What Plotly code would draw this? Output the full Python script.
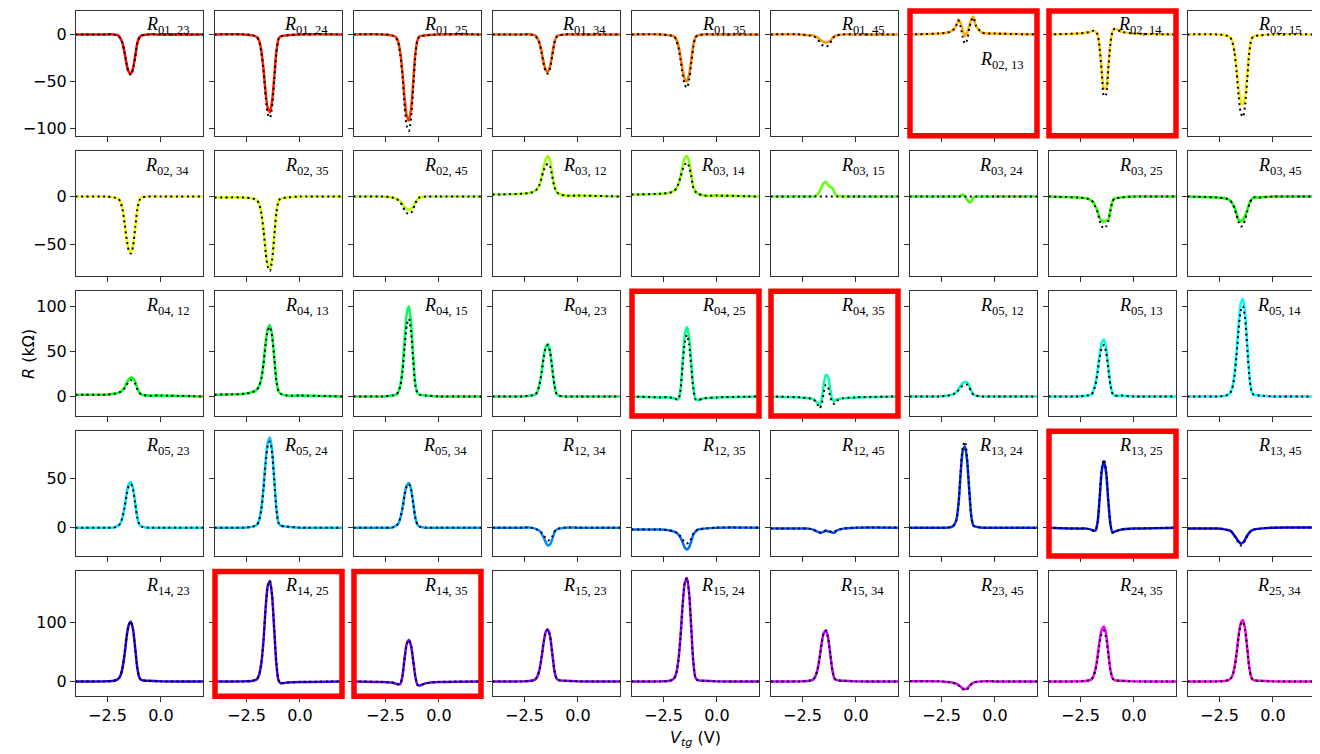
import colorsys
import plotly.graph_objects as go

# ---------------- data ----------------
V_TG = [-4.0, -2.6, -2.2, -2.0, -1.9, -1.8, -1.7, -1.6, -1.5, -1.4,
        -1.3, -1.2, -1.1, -1.0, -0.9, -0.6, 0.0, 2.0]

LABELS = ["01, 23", "01, 24", "01, 25", "01, 34", "01, 35", "01, 45", "02, 13", "02, 14", "02, 15",
          "02, 34", "02, 35", "02, 45", "03, 12", "03, 14", "03, 15", "03, 24", "03, 25", "03, 45",
          "04, 12", "04, 13", "04, 15", "04, 23", "04, 25", "04, 35", "05, 12", "05, 13", "05, 14",
          "05, 23", "05, 24", "05, 34", "12, 34", "12, 35", "12, 45", "13, 24", "13, 25", "13, 45",
          "14, 23", "14, 25", "14, 35", "15, 23", "15, 24", "15, 34", "23, 45", "24, 35", "25, 34"]

HIGHLIGHTED = ["02, 13", "02, 14", "04, 25", "04, 35", "13, 25", "14, 25", "14, 35"]

meas_row1 = [
    [0, 0, 0, -1, -4, -9, -19, -32, -40, -42, -36, -23, -9, -3, -1, 0, 0, 0],
    [0, 0, -1, -3, -7, -18, -37, -62, -79, -83, -71, -46, -18, -5, -2, -1, 0, 0],
    [0, 0, -1, -3, -8, -20, -41, -69, -87, -92, -79, -51, -20, -6, -2, -1, 0, 0],
    [0, 0, 0, -1, -4, -9, -18, -30, -38, -40, -34, -22, -9, -2, -1, 0, 0, 0],
    [0, 0, -1, -2, -5, -12, -24, -38, -48, -50, -43, -28, -11, -3, -1, 0, 0, 0],
    [0, 0, -1, -1, -2, -3, -5, -7, -8, -9, -8, -7, -4, -2, -1, 0, 0, 0],
    [0, 1, 2, 4, 6, 10, 16, 12, 5, -2, 2, 9, 16, 19, 10, 2, 1, 0],
    [0, 1, 2, 3, 4, 3, 0, -14, -38, -58, -57, -35, -10, 3, 6, 3, 1, 0],
    [0, 0, -1, -3, -7, -17, -34, -56, -71, -75, -65, -41, -17, -5, -2, -1, 0, 0],
]
fit_row1 = [
    [0, 0, 0, -2, -4, -9, -19, -32, -41, -43, -37, -24, -9, -3, -1, 0, 0, 0],
    [0, 0, -1, -3, -8, -20, -40, -67, -85, -89, -77, -49, -20, -5, -2, -1, 0, 0],
    [0, 0, -1, -4, -9, -23, -46, -77, -98, -103, -89, -57, -23, -6, -2, -1, 0, 0],
    [0, 0, 0, -2, -4, -9, -19, -32, -40, -42, -36, -23, -9, -3, -1, 0, 0, 0],
    [0, 0, -1, -2, -6, -14, -27, -43, -54, -57, -49, -31, -13, -3, -1, 0, 0, 0],
    [0, 0, -1, -2, -3, -5, -8, -11, -12, -13, -12, -9, -5, -2, -1, 0, 0, 0],
    [0, 1, 2, 4, 6, 10, 15, 8, -3, -10, -6, 6, 15, 18, 10, 2, 1, 0],
    [0, 1, 2, 3, 4, 3, 0, -15, -42, -66, -64, -38, -11, 3, 6, 3, 1, 0],
    [0, 0, -1, -3, -8, -19, -40, -66, -84, -88, -76, -48, -19, -5, -2, -1, 0, 0],
]

meas_row2 = [
    [0, 0, -1, -2, -5, -13, -26, -44, -55, -58, -50, -32, -13, -3, -1, 0, 0, 0],
    [-1, -1, -2, -4, -8, -17, -34, -56, -70, -74, -64, -41, -16, -5, -2, -1, 0, 0],
    [0, 0, -1, -2, -3, -5, -8, -11, -13, -14, -13, -10, -6, -3, -1, 0, 0, 0],
    [2, 3, 4, 6, 8, 12, 20, 31, 39, 42, 37, 24, 11, 5, 3, 1, 1, 0],
    [2, 3, 4, 6, 8, 13, 21, 32, 40, 42, 36, 23, 10, 5, 3, 1, 1, 0],
    [0, 0, 0, 0, 1, 2, 5, 10, 14, 15, 12, 10, 9, 4, 1, 0, 0, 0],
    [0, 0, 0, 0, 0, 0, 0, 1, 2, 0, -3, -6, -5, -1, 0, 0, 0, 0],
    [0, -1, -2, -4, -6, -10, -15, -22, -25, -26, -25, -24, -14, -5, -2, -1, 0, 0],
    [0, -1, -2, -4, -7, -11, -18, -24, -26, -24, -20, -14, -7, -3, -1, -1, 0, 0],
]
fit_row2 = [
    [0, 0, -1, -2, -5, -13, -27, -44, -56, -59, -51, -32, -13, -4, -1, 0, 0, 0],
    [-1, -1, -2, -4, -8, -18, -35, -58, -73, -77, -66, -42, -17, -5, -2, -1, 0, 0],
    [0, 0, -1, -2, -4, -6, -10, -14, -17, -18, -17, -13, -7, -3, -1, 0, 0, 0],
    [2, 3, 4, 6, 8, 12, 19, 27, 32, 34, 31, 21, 10, 5, 3, 1, 1, 0],
    [2, 3, 4, 6, 8, 13, 20, 28, 33, 35, 31, 21, 9, 5, 3, 1, 1, 0],
    [0, 0, 0, 0, 0, 0, 0, 0, 0, 0, 0, 0, 0, 0, 0, 0, 0, 0],
    [0, 0, 0, 0, 0, 0, 0, 0, 0, 0, 0, 0, 0, 0, 0, 0, 0, 0],
    [0, -1, -2, -4, -6, -11, -16, -25, -31, -33, -31, -26, -15, -5, -2, -1, 0, 0],
    [0, -1, -2, -4, -7, -12, -19, -27, -31, -30, -24, -16, -8, -3, -1, -1, 0, 0],
]

meas_row3 = [
    [2, 2, 3, 4, 5, 7, 10, 15, 19, 21, 20, 16, 9, 4, 2, 1, 1, 0],
    [2, 3, 5, 8, 12, 20, 37, 60, 75, 79, 68, 44, 18, 6, 3, 1, 1, 0],
    [0, 0, 1, 2, 5, 13, 32, 64, 92, 100, 82, 45, 14, 4, 2, 1, 0, 0],
    [0, 0, 1, 2, 5, 13, 26, 44, 55, 58, 50, 32, 13, 3, 1, 0, 0, 0],
    [0, -1, -1, -2, -3, -3, 8, 40, 68, 77, 66, 38, 10, -3, -4, -2, -1, 0],
    [0, -1, -2, -3, -5, -7, -9, -3, 14, 24, 22, 8, -3, -5, -3, -2, -1, 0],
    [0, 0, 1, 2, 3, 5, 8, 12, 15, 16, 16, 12, 6, 2, 1, 0, 0, 0],
    [0, 0, 1, 2, 6, 14, 28, 47, 60, 63, 54, 35, 14, 4, 1, 1, 0, 0],
    [0, 0, 1, 4, 10, 24, 49, 81, 103, 108, 93, 59, 24, 6, 2, 1, 0, 0],
]
fit_row3 = [
    [2, 2, 3, 4, 5, 7, 9, 13, 16, 18, 17, 14, 8, 4, 2, 1, 1, 0],
    [2, 3, 5, 8, 12, 20, 36, 58, 73, 77, 66, 43, 17, 6, 3, 1, 1, 0],
    [0, 0, 1, 2, 5, 12, 28, 55, 79, 86, 71, 39, 12, 4, 2, 1, 0, 0],
    [0, 0, 1, 2, 5, 13, 26, 43, 54, 57, 49, 31, 13, 3, 1, 0, 0, 0],
    [0, -1, -1, -2, -3, -3, 7, 35, 60, 68, 58, 33, 9, -3, -4, -2, -1, 0],
    [0, -1, -2, -3, -5, -9, -13, -9, 5, 13, 10, 0, -7, -8, -5, -2, -1, 0],
    [0, 0, 1, 2, 3, 4, 7, 10, 12, 13, 13, 10, 5, 2, 1, 0, 0, 0],
    [0, 0, 1, 2, 5, 13, 26, 43, 54, 57, 49, 31, 13, 3, 1, 1, 0, 0],
    [0, 0, 1, 4, 9, 22, 45, 75, 95, 100, 86, 55, 22, 6, 2, 1, 0, 0],
]

meas_row4 = [
    [0, 0, 0, 2, 4, 10, 21, 35, 44, 46, 40, 25, 10, 3, 1, 0, 0, 0],
    [0, 0, 1, 3, 8, 20, 41, 68, 86, 91, 78, 50, 20, 5, 2, 1, 0, 0],
    [0, 0, 0, 2, 4, 10, 20, 34, 43, 45, 39, 25, 10, 3, 1, 0, 0, 0],
    [0, 0, 0, -1, -2, -3, -6, -10, -15, -18, -17, -12, -5, -2, -1, 0, 0, 0],
    [-2, -2, -3, -4, -5, -7, -10, -15, -20, -22, -20, -14, -7, -4, -2, -1, 0, 0],
    [-1, -1, -1, -2, -3, -4, -5, -5, -4, -3, -4, -4, -5, -5, -3, -1, 0, 0],
    [0, 0, 0, 1, 3, 8, 24, 55, 78, 82, 68, 38, 11, 2, 1, 0, 0, 0],
    [0, -1, -1, -2, -3, -3, 5, 30, 58, 67, 56, 28, 4, -5, -4, -2, -1, 0],
    [-1, -1, -2, -3, -5, -8, -11, -14, -16, -15, -12, -8, -5, -3, -2, -1, 0, 0],
]
fit_row4 = [
    [0, 0, 0, 2, 4, 10, 20, 33, 42, 44, 38, 24, 10, 3, 1, 0, 0, 0],
    [0, 0, 1, 3, 8, 19, 39, 65, 83, 87, 75, 48, 19, 5, 2, 1, 0, 0],
    [0, 0, 0, 2, 4, 10, 20, 33, 42, 44, 38, 24, 10, 3, 1, 0, 0, 0],
    [0, 0, 0, -1, -2, -3, -5, -8, -11, -13, -12, -9, -4, -2, -1, 0, 0, 0],
    [-2, -2, -3, -4, -5, -6, -9, -12, -15, -16, -15, -11, -6, -4, -2, -1, 0, 0],
    [-1, -1, -1, -2, -3, -4, -5, -5, -4, -3, -3, -4, -5, -4, -3, -1, 0, 0],
    [0, 0, 0, 1, 3, 8, 24, 57, 82, 87, 71, 39, 11, 2, 1, 0, 0, 0],
    [0, -1, -1, -2, -3, -3, 5, 31, 60, 69, 58, 29, 4, -5, -4, -2, -1, 0],
    [-1, -1, -2, -3, -5, -8, -12, -16, -18, -17, -13, -9, -5, -3, -2, -1, 0, 0],
]

meas_row5 = [
    [0, 0, 1, 4, 9, 22, 45, 76, 96, 101, 87, 56, 22, 6, 2, 1, 0, 0],
    [0, 0, 1, 4, 12, 32, 70, 125, 162, 170, 145, 88, 30, 2, -3, -2, -1, 0],
    [0, -1, -2, -4, -5, -4, 10, 40, 64, 70, 60, 35, 8, -6, -7, -3, -1, 0],
    [0, 0, 1, 3, 8, 19, 40, 66, 84, 88, 76, 48, 19, 5, 2, 1, 0, 0],
    [0, 0, 1, 5, 14, 36, 76, 130, 167, 175, 150, 92, 32, 6, 2, 1, 0, 0],
    [0, 0, 1, 3, 8, 19, 39, 65, 82, 86, 74, 47, 19, 5, 2, 1, 0, 0],
    [0, 0, -1, -2, -3, -4, -6, -9, -12, -13, -12, -8, -4, -2, -1, 0, 0, 0],
    [0, 0, 1, 3, 8, 20, 42, 70, 88, 93, 80, 51, 20, 6, 2, 1, 0, 0],
    [0, 0, 1, 4, 9, 23, 47, 78, 99, 104, 89, 57, 23, 6, 2, 1, 0, 0],
]
fit_row5 = [
    [0, 0, 1, 4, 9, 22, 45, 76, 96, 101, 87, 56, 22, 6, 2, 1, 0, 0],
    [0, 0, 1, 4, 12, 32, 70, 125, 162, 170, 145, 88, 30, 2, -3, -2, -1, 0],
    [0, -1, -2, -4, -5, -4, 10, 40, 64, 70, 60, 35, 8, -6, -7, -3, -1, 0],
    [0, 0, 1, 3, 8, 19, 40, 66, 84, 88, 76, 48, 19, 5, 2, 1, 0, 0],
    [0, 0, 1, 5, 14, 36, 76, 130, 167, 175, 150, 92, 32, 6, 2, 1, 0, 0],
    [0, 0, 1, 3, 8, 19, 39, 65, 82, 86, 74, 47, 19, 5, 2, 1, 0, 0],
    [0, 0, -1, -2, -3, -4, -7, -10, -13, -15, -14, -10, -5, -2, -1, 0, 0, 0],
    [0, 0, 1, 3, 8, 19, 39, 65, 82, 86, 74, 47, 19, 5, 2, 1, 0, 0],
    [0, 0, 1, 4, 9, 22, 45, 76, 96, 101, 87, 56, 22, 6, 2, 1, 0, 0],
]

X_TICKS = [-2.5, 0.0]
X_TICK_TEXT = ["\u22122.5", "0.0"]
ROW_Y_TICKS = [[-100, -50, 0], [-50, 0], [0, 50, 100], [0, 50], [0, 100]]

# ---------------- layout / style ----------------
PAGE_OFF = 8          # browser body margin; figure drawn from (8, 8)
W, H = 1320 - PAGE_OFF, 754 - PAGE_OFF
ROW_RANGES = [[-108, 25], [-82, 47], [-21.5, 116.5], [-28.7, 97.3], [-25, 186]]
COL_LEFT = [76 + 139 * c for c in range(9)]
PANEL_W = 127
ROW_TOP = [11, 151.5, 292, 432.5, 573]
PANEL_H = 125

MEAS = meas_row1 + meas_row2 + meas_row3 + meas_row4 + meas_row5
FITS = fit_row1 + fit_row2 + fit_row3 + fit_row4 + fit_row5


def px_x(x):
    return (x - PAGE_OFF) / W


def px_y(y):
    return 1 - (y - PAGE_OFF) / H


def fmt_tick(v):
    return ("\u2212" + str(abs(v))) if v < 0 else str(v)


fig = go.Figure()
layout = dict(width=W, height=H, margin=dict(l=0, r=0, t=0, b=0),
              paper_bgcolor="white", plot_bgcolor="white", showlegend=False)
annotations = []
shapes = []
tick_font = dict(family="DejaVu Sans", size=16, color="black")
label_font = dict(family="Liberation Serif", size=18, color="black")

for i in range(45):
    r, c = divmod(i, 9)
    n = i + 1
    xa = "x" if n == 1 else f"x{n}"
    ya = "y" if n == 1 else f"y{n}"
    h = (i * 305.0 / 44.0) / 360.0
    rr, gg, bb = colorsys.hsv_to_rgb(h, 1.0, 1.0)
    col = f"rgb({int(rr*255)},{int(gg*255)},{int(bb*255)})"

    fig.add_trace(go.Scatter(x=V_TG, y=MEAS[i], xaxis=xa, yaxis=ya, mode="lines",
                             line=dict(color=col, width=2.5, shape="spline", smoothing=0.7),
                             hoverinfo="skip"))
    fig.add_trace(go.Scatter(x=V_TG, y=FITS[i], xaxis=xa, yaxis=ya, mode="lines",
                             line=dict(color="black", width=2, dash="2px,3.5px",
                                       shape="spline", smoothing=0.7),
                             hoverinfo="skip"))

    x0, x1 = COL_LEFT[c], COL_LEFT[c] + PANEL_W
    y0, y1 = ROW_TOP[r], ROW_TOP[r] + PANEL_H
    key_x = "xaxis" if n == 1 else f"xaxis{n}"
    key_y = "yaxis" if n == 1 else f"yaxis{n}"
    layout[key_x] = dict(domain=[px_x(x0), px_x(x1)], range=[-3.97, 1.97], anchor=ya,
                         tickmode="array", tickvals=X_TICKS, ticktext=X_TICK_TEXT,
                         showticklabels=(r == 4), ticks="outside", ticklen=5, tickwidth=1,
                         tickcolor="#333", showline=True, mirror=True, linecolor="#333",
                         linewidth=1, showgrid=False, zeroline=False, tickfont=tick_font)
    yt = ROW_Y_TICKS[r]
    layout[key_y] = dict(domain=[px_y(y1), px_y(y0)], range=ROW_RANGES[r], anchor=xa,
                         tickmode="array", tickvals=yt, ticktext=[fmt_tick(v) for v in yt],
                         showticklabels=(c == 0), ticks="outside", ticklen=5, tickwidth=1,
                         tickcolor="#333", showline=True, mirror=True, linecolor="#333",
                         linewidth=1, showgrid=False, zeroline=False, tickfont=tick_font)

    a, b = LABELS[i].split(", ")
    text = f"<i>R</i><sub>{a}, {b}</sub>"
    if LABELS[i] == "02, 13":
        ax_px, ay_px = x1 - 12, y0 + 50
    else:
        ax_px, ay_px = x1 - 12, y0 + 15
    annotations.append(dict(x=px_x(ax_px), y=px_y(ay_px), xref="paper", yref="paper",
                            text=text, showarrow=False, xanchor="right", yanchor="middle",
                            font=label_font))

    if LABELS[i] in HIGHLIGHTED:
        shapes.append(dict(type="rect", xref="paper", yref="paper",
                           x0=px_x(x0), x1=px_x(x1), y0=px_y(y1), y1=px_y(y0),
                           line=dict(color="#ff0000", width=5.5), layer="above"))

annotations.append(dict(x=px_x(28), y=px_y(355), xref="paper", yref="paper",
                        text="<i>R</i> (k\u03a9)", showarrow=False, textangle=-90,
                        font=dict(family="DejaVu Sans", size=16, color="black"),
                        xanchor="center", yanchor="middle"))
annotations.append(dict(x=px_x(695), y=px_y(740), xref="paper", yref="paper",
                        text="<i>V</i><sub><i>tg</i></sub> (V)", showarrow=False,
                        font=dict(family="DejaVu Sans", size=16, color="black"),
                        xanchor="center", yanchor="middle"))

layout["annotations"] = annotations
layout["shapes"] = shapes
fig.update_layout(**layout)
fig.write_html("out.html")
